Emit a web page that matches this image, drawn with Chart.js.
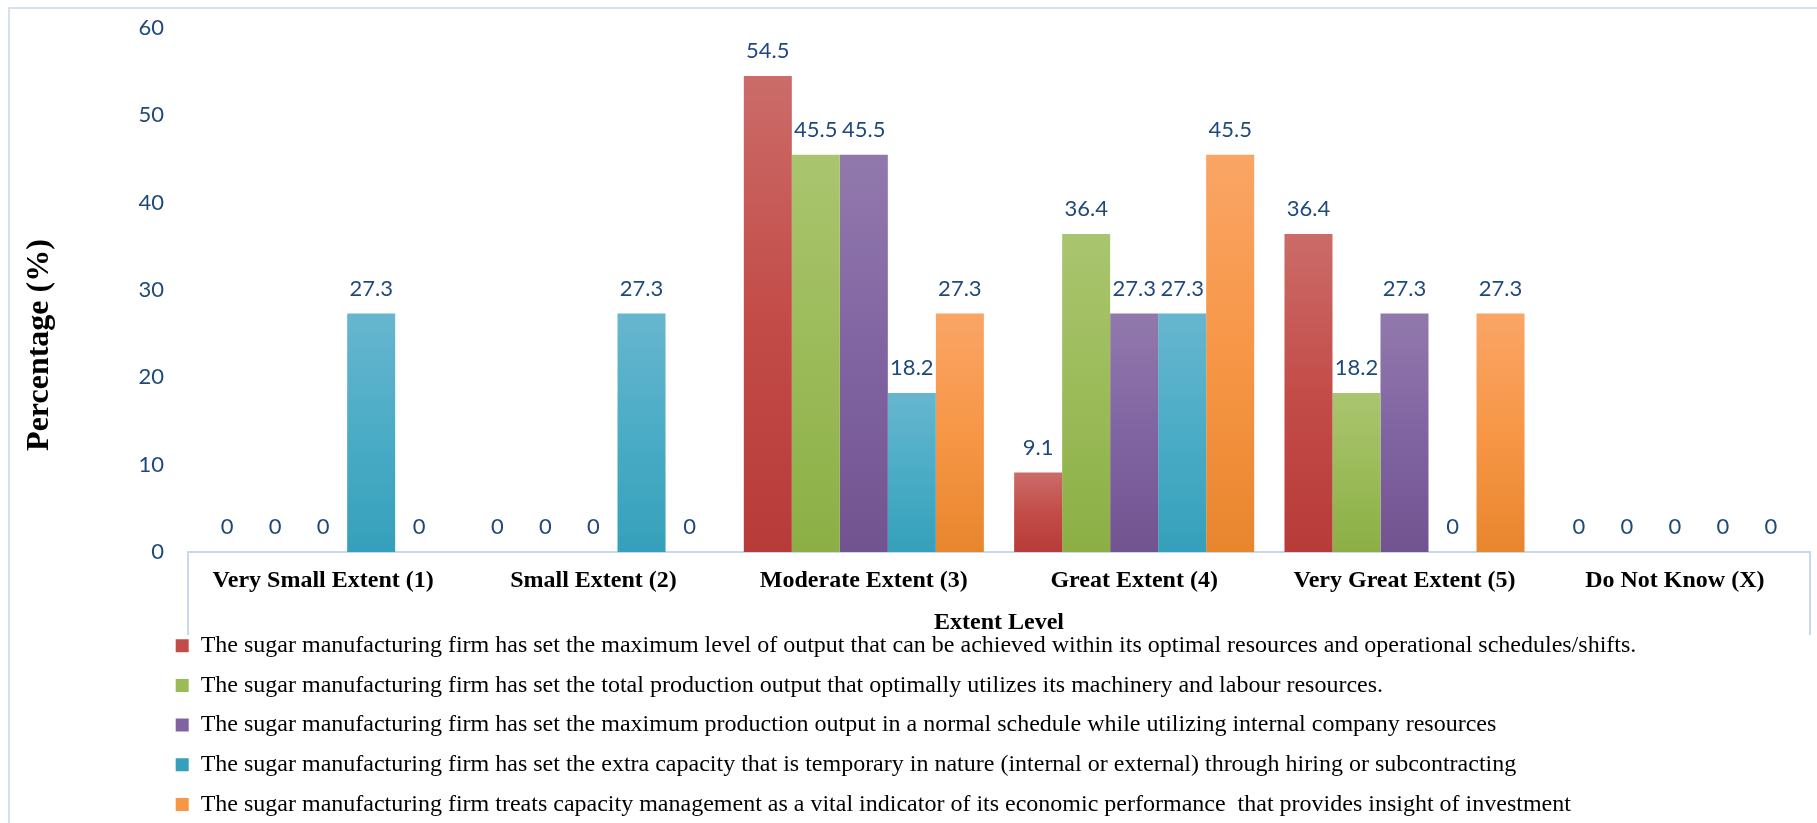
<!DOCTYPE html>
<html>
<head>
<meta charset="utf-8">
<title>Extent Level</title>
<script src="https://cdn.jsdelivr.net/npm/chart.js@4.4.1/dist/chart.umd.min.js"></script>
<style>
    html, body { margin: 0; padding: 0; background: #fff; overflow: hidden; }
    #wrap { width: 1817px; height: 823px; overflow: hidden; }
</style>
</head>
<body>
<div id="wrap"><canvas id="extentChart" width="1817" height="850"></canvas></div>
<script>
// Catégories de l'axe X
const categories = ['Very Small Extent (1)', 'Small Extent (2)', 'Moderate Extent (3)', 'Great Extent (4)', 'Very Great Extent (5)', 'Do Not Know (X)'];

// Libellés des séries (légende)
const seriesLabels = [
    'The sugar manufacturing firm has set the maximum level of output that can be achieved within its optimal resources and operational schedules/shifts.',
    'The sugar manufacturing firm has set the total production output that optimally utilizes its machinery and labour resources.',
    'The sugar manufacturing firm has set the maximum production output in a normal schedule while utilizing internal company resources',
    'The sugar manufacturing firm has set the extra capacity that is temporary in nature (internal or external) through hiring or subcontracting',
    'The sugar manufacturing firm treats capacity management as a vital indicator of its economic performance  that provides insight of investment'
];

// Valeurs (%)
const maxOutput = [0, 0, 54.5, 9.1, 36.4, 0];
const totalOutput = [0, 0, 45.5, 36.4, 18.2, 0];
const normalSchedule = [0, 0, 45.5, 27.3, 27.3, 0];
const extraCapacity = [27.3, 27.3, 18.2, 27.3, 0, 0];
const vitalIndicator = [0, 0, 27.3, 45.5, 27.3, 0];

// Graduations de l'axe Y
const yTicks = [0, 10, 20, 30, 40, 50, 60];

// Couleurs (haut, milieu, bas du dégradé)
const palette = [
    ['#CB6C69', '#C34C48', '#B73B39'],
    ['#AAC56F', '#9BBB59', '#8BAF45'],
    ['#9279AC', '#8064A2', '#71538F'],
    ['#67B6CF', '#4BACC6', '#35A0BB'],
    ['#FAA566', '#F79646', '#E8862E']
];

const labelBlue = '#1F497D';
const frameColor = '#D5E1F1';

// Dégradé vertical propre à chaque barre
function barFill(colors) {
    return function(context) {
        const chart = context.chart;
        if (context.type !== 'data' || !chart.chartArea) {
            return colors[1];
        }
        const yScale = chart.scales.y;
        const top = yScale.getPixelForValue(context.raw);
        const bottom = yScale.getPixelForValue(0);
        if (bottom - top < 1) {
            return colors[1];
        }
        const gradient = chart.ctx.createLinearGradient(0, top, 0, bottom);
        gradient.addColorStop(0, colors[0]);
        gradient.addColorStop(0.5, colors[1]);
        gradient.addColorStop(1, colors[2]);
        return gradient;
    };
}

const seriesValues = [maxOutput, totalOutput, normalSchedule, extraCapacity, vitalIndicator];

const datasets = seriesValues.map((values, i) => ({
    label: seriesLabels[i],
    data: values,
    backgroundColor: barFill(palette[i]),
    borderWidth: 0,
    categoryPercentage: 0.888,
    barPercentage: 1
}));

// Cadre extérieur + boîte sous l'axe X
const framePlugin = {
    id: 'framePlugin',
    beforeDraw(chart) {
        const ctx = chart.ctx;
        const area = chart.chartArea;
        const xScale = chart.scales.x;
        ctx.save();
        ctx.strokeStyle = frameColor;
        ctx.lineWidth = 2;
        ctx.beginPath();
        ctx.moveTo(9, chart.height);
        ctx.lineTo(9, 8);
        ctx.lineTo(chart.width, 8);
        ctx.stroke();

        ctx.strokeStyle = '#C8D8EE';
        ctx.beginPath();
        ctx.moveTo(area.left, area.bottom);
        ctx.lineTo(area.left, xScale.bottom);
        ctx.moveTo(area.right, area.bottom);
        ctx.lineTo(area.right, xScale.bottom);
        ctx.stroke();
        ctx.restore();
    }
};

// Titre de l'axe Y (centré sur la hauteur du graphique comme dans Excel)
const yTitlePlugin = {
    id: 'yTitlePlugin',
    afterDraw(chart) {
        const ctx = chart.ctx;
        ctx.save();
        ctx.translate(40, 345);
        ctx.rotate(-Math.PI / 2);
        ctx.font = 'bold 32px "Liberation Serif", "Times New Roman", serif';
        ctx.fillStyle = '#000';
        ctx.textAlign = 'center';
        ctx.textBaseline = 'middle';
        ctx.fillText('Percentage (%)', 0, 0);
        ctx.restore();
    }
};

// Étiquettes de valeurs au-dessus des barres
const valueLabels = {
    id: 'valueLabels',
    afterDatasetsDraw(chart) {
        const ctx = chart.ctx;
        ctx.save();
        ctx.font = '22px Lato, "Open Sans", sans-serif';
        ctx.fillStyle = labelBlue;
        ctx.textAlign = 'center';
        ctx.textBaseline = 'middle';
        chart.data.datasets.forEach((ds, i) => {
            chart.getDatasetMeta(i).data.forEach((bar, j) => {
                ctx.fillText(String(ds.data[j]), bar.x, bar.y - 25);
            });
        });
        ctx.restore();
    }
};

// Légende alignée à gauche sous le titre de l'axe X
const legendShift = {
    id: 'legendShift',
    afterLayout(chart) {
        const legend = chart.legend;
        if (!legend) return;
        const dy = 618 - legend.top;
        legend.left = 160;
        legend.top += dy;
        legend.bottom += dy;
    }
};

new Chart(document.getElementById('extentChart'), {
    type: 'bar',
    data: {
        labels: categories,
        datasets: datasets
    },
    plugins: [framePlugin, yTitlePlugin, valueLabels, legendShift],
    options: {
        responsive: false,
        animation: false,
        layout: {
            padding: { left: 9, right: 7, top: 28, bottom: 6.5 }
        },
        plugins: {
            legend: {
                position: 'bottom',
                align: 'start',
                labels: {
                    boxWidth: 13,
                    boxHeight: 13,
                    padding: 15.7,
                    color: '#000',
                    font: { family: '"Liberation Serif", "Times New Roman", serif', size: 24 }
                }
            },
            tooltip: { enabled: false }
        },
        scales: {
            x: {
                grid: { display: false, drawTicks: false },
                border: { color: '#C8D8EE', width: 2 },
                ticks: {
                    color: '#000',
                    padding: 14,
                    font: { family: '"Liberation Serif", "Times New Roman", serif', size: 24, weight: 'bold' }
                },
                title: {
                    display: true,
                    text: 'Extent Level',
                    color: '#000',
                    padding: { top: 0, bottom: -2 },
                    font: { family: '"Liberation Serif", "Times New Roman", serif', size: 24, weight: 'bold' }
                },
                afterFit(scale) {
                    scale.height = 83;
                }
            },
            y: {
                min: yTicks[0],
                max: yTicks[yTicks.length - 1],
                grid: { display: false, drawTicks: false },
                border: { display: false },
                afterBuildTicks(scale) {
                    scale.ticks = yTicks.map(v => ({ value: v }));
                },
                ticks: {
                    color: labelBlue,
                    padding: 24,
                    font: { family: 'Lato, "Open Sans", sans-serif', size: 22 }
                },
                afterFit(scale) {
                    scale.width = 179;
                    // la marge des étiquettes ne doit pas réduire la zone du graphique
                    scale.paddingTop = 0;
                    scale.paddingBottom = 0;
                }
            }
        }
    }
});
</script>
</body>
</html>
